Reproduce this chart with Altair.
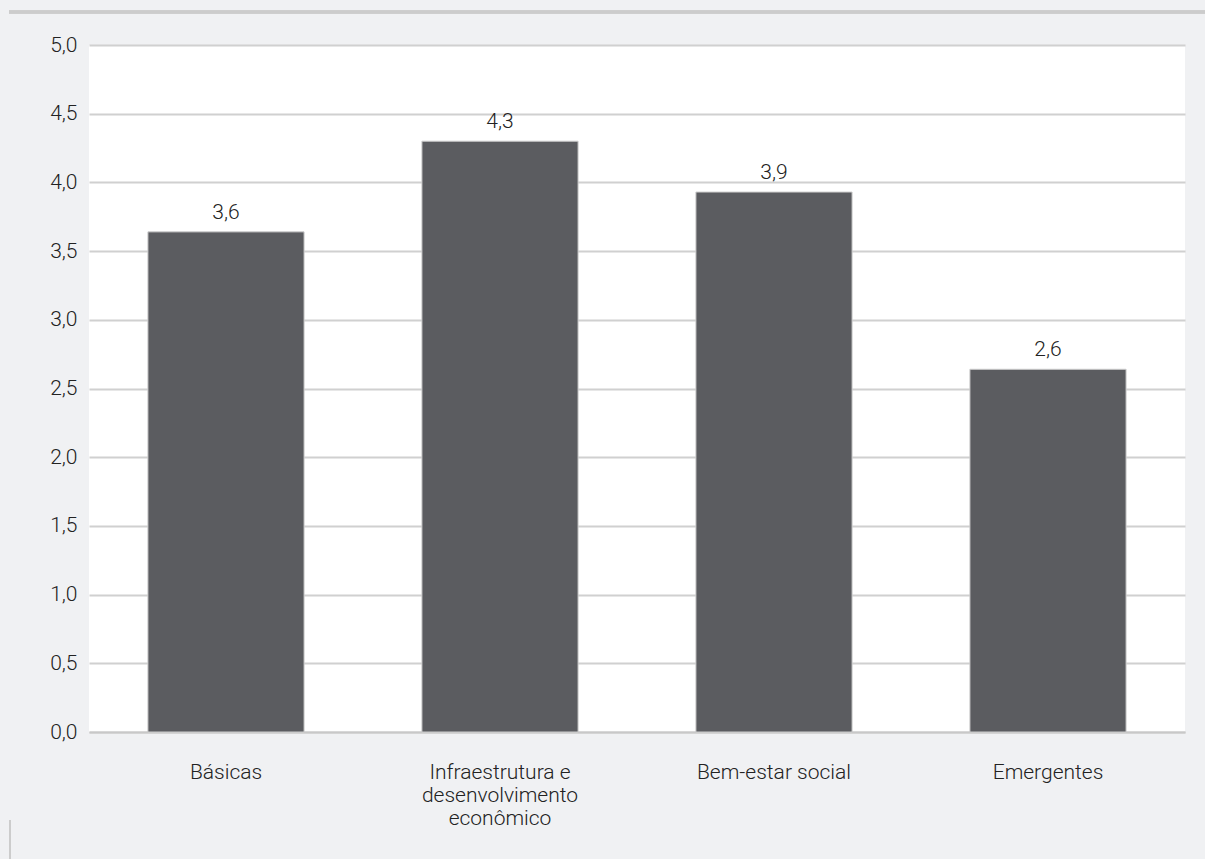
import altair as alt
import pandas as pd

categories = ["Básicas", "Infraestrutura e|desenvolvimento|econômico", "Bem-estar social", "Emergentes"]
values = [3.64, 4.30, 3.93, 2.64]

df = pd.DataFrame({"cat": categories, "v": values})

FONT = "Roboto"
FW = 300
FS = 21

base = alt.Chart(df).encode(
    x=alt.X("cat:N", sort=None, title=None,
            scale=alt.Scale(paddingInner=0.43, paddingOuter=0.215),
            axis=alt.Axis(labelExpr="split(datum.label, '|')", labelAngle=0,
                          labelFontSize=FS, labelFont=FONT, labelFontWeight=FW, labelColor="#222",
                          ticks=False, domainColor="#c8c8c8", domainWidth=2,
                          labelPadding=29, labelLineHeight=23, labelBaseline="top")),
)

bars = base.mark_bar(color="#5b5c60", stroke="#cfcfcf", strokeWidth=1).encode(
    y=alt.Y("v:Q", title=None,
            scale=alt.Scale(domain=[0, 5]),
            axis=alt.Axis(values=[0, 0.5, 1, 1.5, 2, 2.5, 3, 3.5, 4, 4.5, 5], format=".1f",
                          labelExpr="replace(datum.label, '.', ',')",
                          labelFontSize=FS, labelFont=FONT, labelFontWeight=FW, labelColor="#222",
                          ticks=False, domain=False, labelPadding=12,
                          gridColor="#d0d0d0", gridWidth=2)),
)

text = base.mark_text(dy=-19, fontSize=FS, font=FONT, fontWeight=FW, color="#222").transform_calculate(
    label="replace(format(datum.v, '.1f'), '.', ',')"
).encode(y="v:Q", text="label:N")

border = alt.Chart(df).mark_rule(color="#cccccc", strokeWidth=3, clip=False).encode(
    x=alt.value(-80), x2=alt.value(1130), y=alt.value(-33)
)
border_left = alt.Chart(df).mark_rule(color="#cccccc", strokeWidth=2, clip=False).encode(
    x=alt.value(-79), y=alt.value(775), y2=alt.value(814)
)

chart = alt.layer(border, border_left, bars, text).properties(
    width=1096, height=687,
    padding={"left": 89, "top": 45, "right": 20, "bottom": 127},
    autosize=alt.AutoSizeParams(type="none"),
    background="#f0f1f3",
).configure_view(fill="white", stroke=None)

chart.save("out.html", embed_options={"renderer": "svg", "actions": False})
